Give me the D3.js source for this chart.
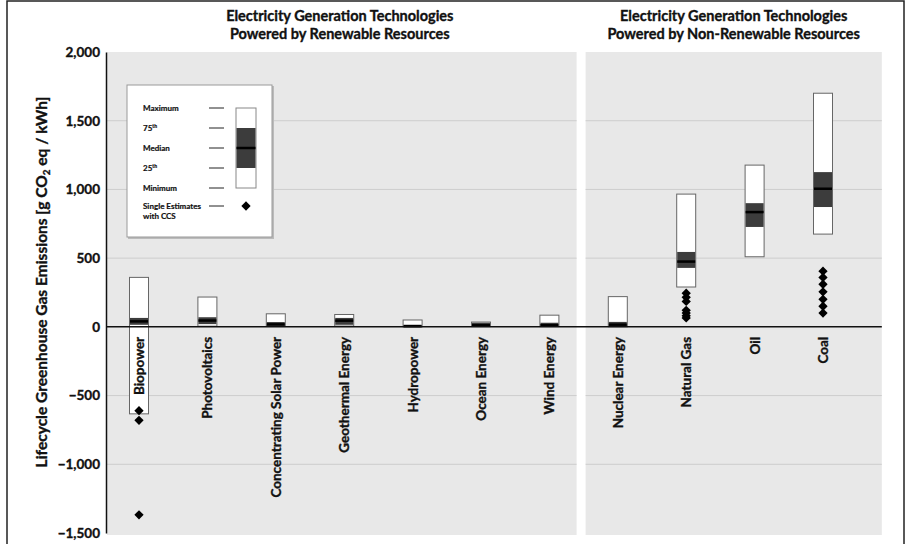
<!DOCTYPE html>
<html>
<head>
<meta charset="utf-8">
<script src="https://cdn.jsdelivr.net/npm/d3@7"></script>
<style>
  body { margin: 0; background: #fff; }
  text { font-family: Lato, "Open Sans", sans-serif; font-weight: 700; fill: #111; }
  .heavy { stroke: #111; stroke-width: 0.35px; }
</style>
</head>
<body>
<svg></svg>
<script>
var width = 919,
    height = 544;

// technologies, left panel renewable, right panel non-renewable
var renewable = ["Biopower", "Photovoltaics", "Concentrating Solar Power", "Geothermal Energy",
                 "Hydropower", "Ocean Energy", "Wind Energy"];
var nonRenewable = ["Nuclear Energy", "Natural Gas", "Oil", "Coal"];
var categories = renewable.concat(nonRenewable);

// g CO2 eq / kWh
var minimum = [-633, 5, 7, 6, 0, 2, 2, 1, 290, 510, 675];
var q25 = [15, 20, 5, 15, 3, 4, 4, 4, 429, 727, 872];
var median = [40, 46, 18, 45, 6, 12, 12, 16, 475, 835, 1005];
var q75 = [65, 70, 35, 65, 12, 30, 30, 36, 545, 900, 1126];
var maximum = [360, 217, 95, 90, 50, 35, 85, 220, 966, 1177, 1700];

// single estimates with CCS
var ccsTech = ["Biopower", "Biopower", "Biopower",
               "Natural Gas", "Natural Gas", "Natural Gas", "Natural Gas", "Natural Gas", "Natural Gas", "Natural Gas",
               "Coal", "Coal", "Coal", "Coal", "Coal", "Coal", "Coal"];
var ccsValue = [-610, -680, -1368,
                245, 215, 185, 120, 100, 80, 65,
                405, 360, 310, 255, 200, 150, 100];

var yTicks = [-1500, -1000, -500, 0, 500, 1000, 1500, 2000];

var legendLabels = ["Maximum", "75th", "Median", "25th", "Minimum"];

var svg = d3.select("svg")
    .attr("width", width)
    .attr("height", height);

var x = d3.scalePoint().domain(categories).range([139, 823]);
var y = d3.scaleLinear().domain([-1500, 2000]).range([533, 52]);

var step = x.step();
var boxW = 19;

// outer frame
svg.append("rect")
    .attr("x", 7).attr("y", 1)
    .attr("width", 897).attr("height", 560)
    .attr("fill", "none")
    .attr("stroke", "#222")
    .attr("stroke-width", 1.5);

// panels
var split = (x("Wind Energy") + x("Nuclear Energy")) / 2 - 3;
var panels = [
  {x0: 107, x1: split - 4, title: ["Electricity Generation Technologies", "Powered by Renewable Resources"]},
  {x0: split + 5, x1: x("Coal") + step * 0.86, title: ["Electricity Generation Technologies", "Powered by Non-Renewable Resources"]}
];

svg.selectAll(".panel").data(panels).enter()
  .append("rect")
    .attr("class", "panel")
    .attr("x", function(d) { return d.x0; })
    .attr("y", y(2000))
    .attr("width", function(d) { return d.x1 - d.x0; })
    .attr("height", y(-1500) - y(2000) + 2)
    .attr("fill", "#e8e8e8");

// grid lines
panels.forEach(function(p) {
  svg.selectAll(null).data(yTicks.filter(function(t) { return t != 0 && t != 2000 && t != -1500; })).enter()
    .append("line")
      .attr("x1", p.x0).attr("x2", p.x1)
      .attr("y1", function(d) { return y(d); })
      .attr("y2", function(d) { return y(d); })
      .attr("stroke", "#cdcdcd")
      .attr("stroke-width", 1);
});

// titles
panels.forEach(function(p) {
  var t = svg.append("text")
      .attr("class", "heavy")
      .attr("x", (p.x0 + p.x1) / 2 + (p === panels[0] ? -2 : 0))
      .attr("y", 21)
      .attr("text-anchor", "middle")
      .style("font-size", "14.5px");
  t.selectAll("tspan").data(p.title).enter()
    .append("tspan")
      .attr("x", t.attr("x"))
      .attr("dy", function(d, i) { return i ? 17.5 : 0; })
      .text(function(d) { return d; });
});

// y axis
var yAxis = svg.append("g")
    .attr("transform", "translate(106,0)")
    .call(d3.axisLeft(y).tickValues(yTicks).tickSize(0).tickPadding(6).tickFormat(d3.format(",")));
yAxis.select(".domain").attr("stroke", "#111").attr("stroke-width", 1.5);
yAxis.selectAll("text")
    .attr("class", "heavy")
    .style("font-family", "Lato, sans-serif")
    .style("font-weight", 700)
    .style("font-size", "13.5px")
    .attr("fill", "#111");

var yTitle = svg.append("text")
    .attr("class", "heavy")
    .attr("transform", "translate(47," + 282 + ") rotate(-90)")
    .attr("text-anchor", "middle")
    .style("font-size", "15.5px");
yTitle.append("tspan").text("Lifecycle Greenhouse Gas Emissions [g CO");
yTitle.append("tspan").attr("dy", 3).style("font-size", "10px").text("2");
yTitle.append("tspan").attr("dy", -3).text(" eq / kWh]");

// boxes
var rows = categories.map(function(c, i) {
  return {name: c, min: minimum[i], q1: q25[i], med: median[i], q3: q75[i], max: maximum[i]};
});

var boxes = svg.selectAll(".box").data(rows).enter()
  .append("g")
    .attr("class", "box")
    .attr("transform", function(d) { return "translate(" + x(d.name) + ",0)"; });

boxes.append("rect")
    .attr("x", -boxW / 2)
    .attr("y", function(d) { return y(d.max); })
    .attr("width", boxW)
    .attr("height", function(d) { return Math.max(1, y(d.min) - y(d.max)); })
    .attr("fill", "#fff")
    .attr("stroke", "#666")
    .attr("stroke-width", 1);

// zero line
svg.append("line")
    .attr("x1", 106).attr("x2", panels[1].x1)
    .attr("y1", y(0)).attr("y2", y(0))
    .attr("stroke", "#111")
    .attr("stroke-width", 1.5);

// category labels
boxes.append("text")
    .attr("class", "heavy")
    .attr("transform", "translate(5," + (y(0) + 10) + ") rotate(-90)")
    .attr("text-anchor", "end")
    .style("font-size", "13.5px")
    .text(function(d) { return d.name; });

boxes.append("rect")
    .attr("x", -boxW / 2 + 0.5)
    .attr("y", function(d) { return y(d.q3); })
    .attr("width", boxW - 1)
    .attr("height", function(d) { return Math.max(2, y(d.q1) - y(d.q3)); })
    .attr("fill", "#3c3c3c");

boxes.append("line")
    .attr("x1", -boxW / 2 + 0.5).attr("x2", boxW / 2 - 0.5)
    .attr("y1", function(d) { return y(d.med); })
    .attr("y2", function(d) { return y(d.med); })
    .attr("stroke", "#000")
    .attr("stroke-width", 2.5);

// CCS diamonds
var diamond = d3.symbol().type(d3.symbolDiamond2).size(55);
svg.selectAll(".ccs").data(ccsValue).enter()
  .append("path")
    .attr("class", "ccs")
    .attr("d", diamond)
    .attr("transform", function(d, i) { return "translate(" + x(ccsTech[i]) + "," + y(d) + ")"; })
    .attr("fill", "#000");

// legend
var lg = svg.append("g").attr("transform", "translate(127,85)");
lg.append("rect")
    .attr("x", 1).attr("y", 1)
    .attr("width", 146).attr("height", 153)
    .attr("fill", "#bbb");
lg.append("rect")
    .attr("width", 145).attr("height", 152)
    .attr("fill", "#fff")
    .attr("stroke", "#999");

var ly = d3.scaleLinear().domain([0, 4]).range([23, 103]);
legendLabels.forEach(function(l, i) {
  var t = lg.append("text")
      .attr("class", "heavy")
      .attr("x", 16).attr("y", ly(i) + 3)
      .style("font-size", "8px")
      .style("stroke-width", "0.2px");
  if (l.indexOf("th") > 0) {
    t.append("tspan").text(l.replace("th", ""));
    t.append("tspan").attr("dy", -3).style("font-size", "5px").text("th");
  } else {
    t.text(l);
  }
  lg.append("line")
      .attr("x1", 82).attr("x2", 97)
      .attr("y1", ly(i)).attr("y2", ly(i))
      .attr("stroke", "#222");
});
lg.append("rect")
    .attr("x", 109).attr("y", ly(0))
    .attr("width", 20).attr("height", ly(4) - ly(0))
    .attr("fill", "#fff").attr("stroke", "#888");
lg.append("rect")
    .attr("x", 109.5).attr("y", ly(1))
    .attr("width", 19).attr("height", ly(3) - ly(1))
    .attr("fill", "#3c3c3c");
lg.append("line")
    .attr("x1", 109.5).attr("x2", 128.5)
    .attr("y1", ly(2)).attr("y2", ly(2))
    .attr("stroke", "#000").attr("stroke-width", 2.5);

var lt = lg.append("text").attr("class", "heavy").style("stroke-width", "0.2px")
    .attr("x", 16).attr("y", 124).style("font-size", "8px");
lt.append("tspan").attr("x", 16).text("Single Estimates");
lt.append("tspan").attr("x", 16).attr("dy", 10).text("with CCS");
lg.append("line")
    .attr("x1", 82).attr("x2", 97)
    .attr("y1", 121).attr("y2", 121)
    .attr("stroke", "#222");
lg.append("path")
    .attr("d", diamond)
    .attr("transform", "translate(119,121)")
    .attr("fill", "#000");
</script>
</body>
</html>
